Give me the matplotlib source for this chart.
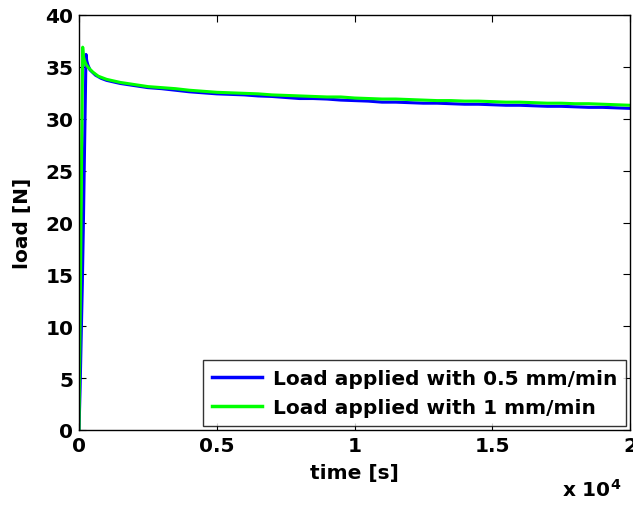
import matplotlib
matplotlib.use("Agg")
import matplotlib.pyplot as plt

plt.rcParams['font.family'] = ['DejaVu Sans']
plt.rcParams['font.weight'] = 'bold'
plt.rcParams['mathtext.default'] = 'bf'

# Series 1: 0.5 mm/min
t_blue = [0, 40, 80, 120, 160, 200, 230, 254, 280, 320, 400, 600, 800, 1000, 1500,
          2000, 2500, 3000, 3500, 4000, 4500, 5000, 5500, 6000, 6500, 7000, 7500,
          8000, 8500, 9000, 9500, 10000, 10500, 11000, 11500, 12000, 12500, 13000,
          13500, 14000, 14500, 15000, 15500, 16000, 16500, 17000, 17500, 18000,
          18500, 19000, 19500, 20000]
load_blue = [0, 4, 9, 14, 20, 27, 32, 36.2, 35.6, 35.2, 34.7, 34.2, 33.9, 33.7, 33.4,
             33.2, 33.0, 32.9, 32.75, 32.6, 32.5, 32.4, 32.35, 32.3, 32.2, 32.15, 32.05,
             31.95, 31.95, 31.9, 31.8, 31.75, 31.7, 31.6, 31.6, 31.55, 31.5, 31.5,
             31.45, 31.4, 31.4, 31.35, 31.3, 31.3, 31.25, 31.2, 31.2, 31.15,
             31.1, 31.1, 31.05, 31.0]

# Series 2: 1 mm/min
t_green = [0, 30, 60, 90, 115, 134, 160, 200, 260, 350, 500, 700, 1000, 1500,
           2000, 2500, 3000, 3500, 4000, 4500, 5000, 5500, 6000, 6500, 7000, 7500,
           8000, 8500, 9000, 9500, 10000, 10500, 11000, 11500, 12000, 12500, 13000,
           13500, 14000, 14500, 15000, 15500, 16000, 16500, 17000, 17500, 18000,
           18500, 19000, 19500, 20000]
load_green = [0, 8, 16, 25, 32, 36.9, 36.0, 35.6, 35.2, 34.9, 34.5, 34.1, 33.8, 33.5,
              33.3, 33.1, 33.0, 32.9, 32.75, 32.65, 32.55, 32.5, 32.45, 32.4, 32.3, 32.25,
              32.2, 32.15, 32.1, 32.1, 32.0, 31.95, 31.9, 31.9, 31.85, 31.8, 31.75,
              31.75, 31.7, 31.7, 31.65, 31.6, 31.6, 31.55, 31.5, 31.5, 31.45,
              31.45, 31.4, 31.35, 31.3]

x_ticks = [0, 5000, 10000, 15000, 20000]
x_tick_labels = ["0", "0.5", "1", "1.5", "2"]
y_ticks = [0, 5, 10, 15, 20, 25, 30, 35, 40]

fig = plt.figure(figsize=(6.33, 5.06), dpi=100)
ax = fig.add_axes([79/633, 1 - 431/506, 551/633, 415/506])

ax.plot(t_blue, load_blue, color='#0000ff', lw=2.2, label='Load applied with 0.5 mm/min')
ax.plot(t_green, load_green, color='#00ff00', lw=2.2, label='Load applied with 1 mm/min')

ax.set_xlim(0, 20000)
ax.set_ylim(0, 40)
ax.set_xticks(x_ticks)
ax.set_xticklabels(x_tick_labels)
ax.set_yticks(y_ticks)
ax.tick_params(direction='in', top=True, right=True, labelsize=14.5, length=5, width=0.8,
               pad=4)
for lab in ax.get_xticklabels() + ax.get_yticklabels():
    lab.set_fontweight('bold')
for s in ax.spines.values():
    s.set_linewidth(1.0)

ax.set_xlabel('time [s]', fontsize=14.5, fontweight='bold', labelpad=6)
ax.set_ylabel('load [N]', fontsize=14.5, fontweight='bold', labelpad=10)

fig.text(562/633, 1 - 490/506, r'x 10$^{4}$', fontsize=14.5, fontweight='bold',
         va='center', ha='left')

leg = ax.legend(loc='lower right', fontsize=14.5, frameon=True, fancybox=False,
                edgecolor='black', borderaxespad=0.2, handlelength=2.5,
                handletextpad=0.5, borderpad=0.45, labelspacing=0.5)
leg.get_frame().set_linewidth(1.0)
for txt in leg.get_texts():
    txt.set_fontweight('bold')
for line in leg.get_lines():
    line.set_linewidth(2.5)

fig.savefig('out.png', dpi=100)
